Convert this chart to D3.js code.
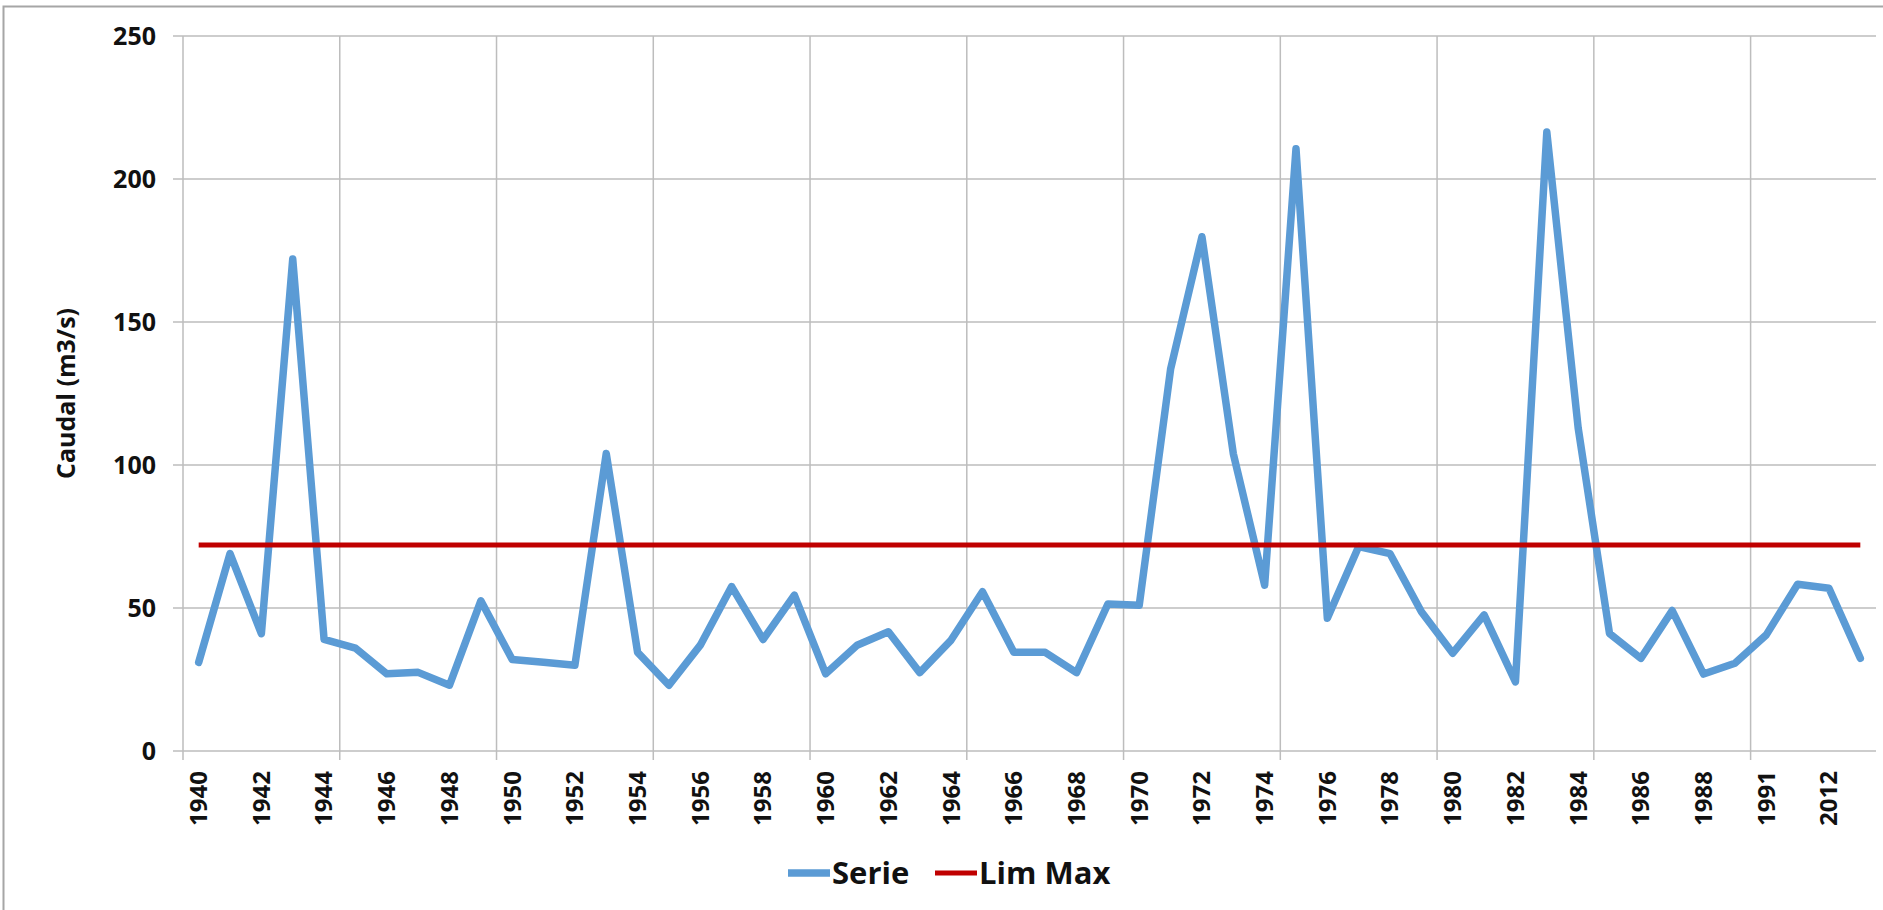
<!DOCTYPE html>
<html>
<head>
<meta charset="utf-8">
<script src="https://cdnjs.cloudflare.com/ajax/libs/d3/7.8.5/d3.min.js"></script>
<style>
  body { margin: 0; background: #fff; }
  text { font-family: "Open Sans", "Liberation Sans", sans-serif; fill: #111; }
</style>
</head>
<body>
<div id="chart"></div>
<script>
// years (category axis, every 2nd one labelled)
var years = [1940, 1941, 1942, 1943, 1944, 1945, 1946, 1947, 1948, 1949,
  1950, 1951, 1952, 1953, 1954, 1955, 1956, 1957, 1958, 1959,
  1960, 1961, 1962, 1963, 1964, 1965, 1966, 1967, 1968, 1969,
  1970, 1971, 1972, 1973, 1974, 1975, 1976, 1977, 1978, 1979,
  1980, 1981, 1982, 1983, 1984, 1985, 1986, 1987, 1988, 1990,
  1991, 2011, 2012, 2013];

// caudal, m3/s
var serie = [31, 69, 41, 172, 39, 36, 27, 27.5, 23, 52.5,
  32, 31, 30, 104, 34.5, 23, 37, 57.5, 39, 54.5,
  27, 37, 41.7, 27.4, 38.8, 55.7, 34.5, 34.5, 27.4, 51.4,
  51, 133.5, 179.8, 104, 58, 210.6, 46.4, 71.5, 69, 48.7,
  34.2, 47.6, 24.2, 216.4, 113, 41.1, 32.4, 49.1, 26.9, 30.7,
  40.6, 58.3, 56.9, 32.4];

var limMax = 72;
var yTicks = [0, 50, 100, 150, 200, 250];

var W = 1883, H = 910;
var plotLeft = 183, plotRight = 1876, plotTop = 36, plotBottom = 751;

var svg = d3.select("#chart").append("svg")
  .attr("width", W)
  .attr("height", H);

// outer chart border
svg.append("rect")
  .attr("x", 3.5).attr("y", 6.5)
  .attr("width", W + 10).attr("height", H + 10)
  .attr("fill", "none")
  .attr("stroke", "#a6a6a6")
  .attr("stroke-width", 2);

var x = d3.scaleBand().domain(years).range([plotLeft, plotRight]).padding(0);
var y = d3.scaleLinear().domain([0, 250]).range([plotBottom, plotTop]);
var cx = function (d) { return x(d) + x.bandwidth() / 2; };

var grid = svg.append("g");

// horizontal gridlines + tick marks
grid.selectAll("line.h").data(yTicks).enter().append("line")
  .attr("x1", plotLeft - 10).attr("x2", plotRight)
  .attr("y1", function (d) { return y(d); })
  .attr("y2", function (d) { return y(d); })
  .attr("stroke", "#bdbdbd").attr("stroke-width", 1.5);

// vertical gridlines at category boundaries, every 5 categories
var bounds = years.filter(function (d, i) { return i % 5 === 0; });
grid.selectAll("line.v").data(bounds).enter().append("line")
  .attr("x1", function (d) { return x(d); })
  .attr("x2", function (d) { return x(d); })
  .attr("y1", plotTop).attr("y2", plotBottom + 9)
  .attr("stroke", "#bdbdbd").attr("stroke-width", 1.5);

// y axis labels
var yAxis = d3.axisLeft(y).tickValues(yTicks).tickSize(0).tickPadding(27);
var gy = svg.append("g").attr("transform", "translate(" + plotLeft + ",0)").call(yAxis);
gy.select(".domain").remove();
gy.selectAll("text")
  .style("font-size", "25px")
  .style("font-weight", 700)
  .style("font-family", "'Open Sans', sans-serif")
  .attr("fill", "#111");

// x axis labels (every second year)
var xAxis = d3.axisBottom(x)
  .tickValues(years.filter(function (d, i) { return i % 2 === 0; }))
  .tickSize(0);
var gx = svg.append("g").attr("transform", "translate(0," + plotBottom + ")").call(xAxis);
gx.select(".domain").remove();
gx.selectAll("text")
  .attr("transform", "translate(0,20) rotate(-90)")
  .attr("x", 0).attr("y", 0).attr("dy", "0.35em")
  .style("text-anchor", "end")
  .style("font-size", "24px")
  .style("font-weight", 700)
  .style("font-family", "'Open Sans', sans-serif")
  .attr("fill", "#111");

// y title
svg.append("text")
  .attr("transform", "translate(66," + ((plotTop + plotBottom) / 2) + ") rotate(-90)")
  .attr("text-anchor", "middle")
  .attr("dy", "0.35em")
  .style("font-size", "25px")
  .style("font-weight", 700)
  .text("Caudal (m3/s)");

// series line
var line = d3.line()
  .x(function (d, i) { return cx(years[i]); })
  .y(function (d) { return y(d); });

svg.append("path")
  .datum(serie)
  .attr("d", line)
  .attr("fill", "none")
  .attr("stroke", "#5b9bd5")
  .attr("stroke-width", 7.5)
  .attr("stroke-linejoin", "round")
  .attr("stroke-linecap", "round");

// lim max line
svg.append("path")
  .datum(years.map(function () { return limMax; }))
  .attr("d", line)
  .attr("fill", "none")
  .attr("stroke", "#c00000")
  .attr("stroke-width", 5);

// legend
var legend = [
  {name: "Serie", color: "#5b9bd5", w: 7.5, x: 788},
  {name: "Lim Max", color: "#c00000", w: 5, x: 935}
];
var lg = svg.append("g").selectAll("g").data(legend).enter().append("g")
  .attr("transform", function (d) { return "translate(" + d.x + ",873)"; });
lg.append("line")
  .attr("x1", 0).attr("x2", 42)
  .attr("stroke", function (d) { return d.color; })
  .attr("stroke-width", function (d) { return d.w; });
lg.append("text")
  .attr("x", 44).attr("dy", "0.36em")
  .style("font-size", "31px")
  .style("font-weight", 700)
  .text(function (d) { return d.name; });
</script>
</body>
</html>
